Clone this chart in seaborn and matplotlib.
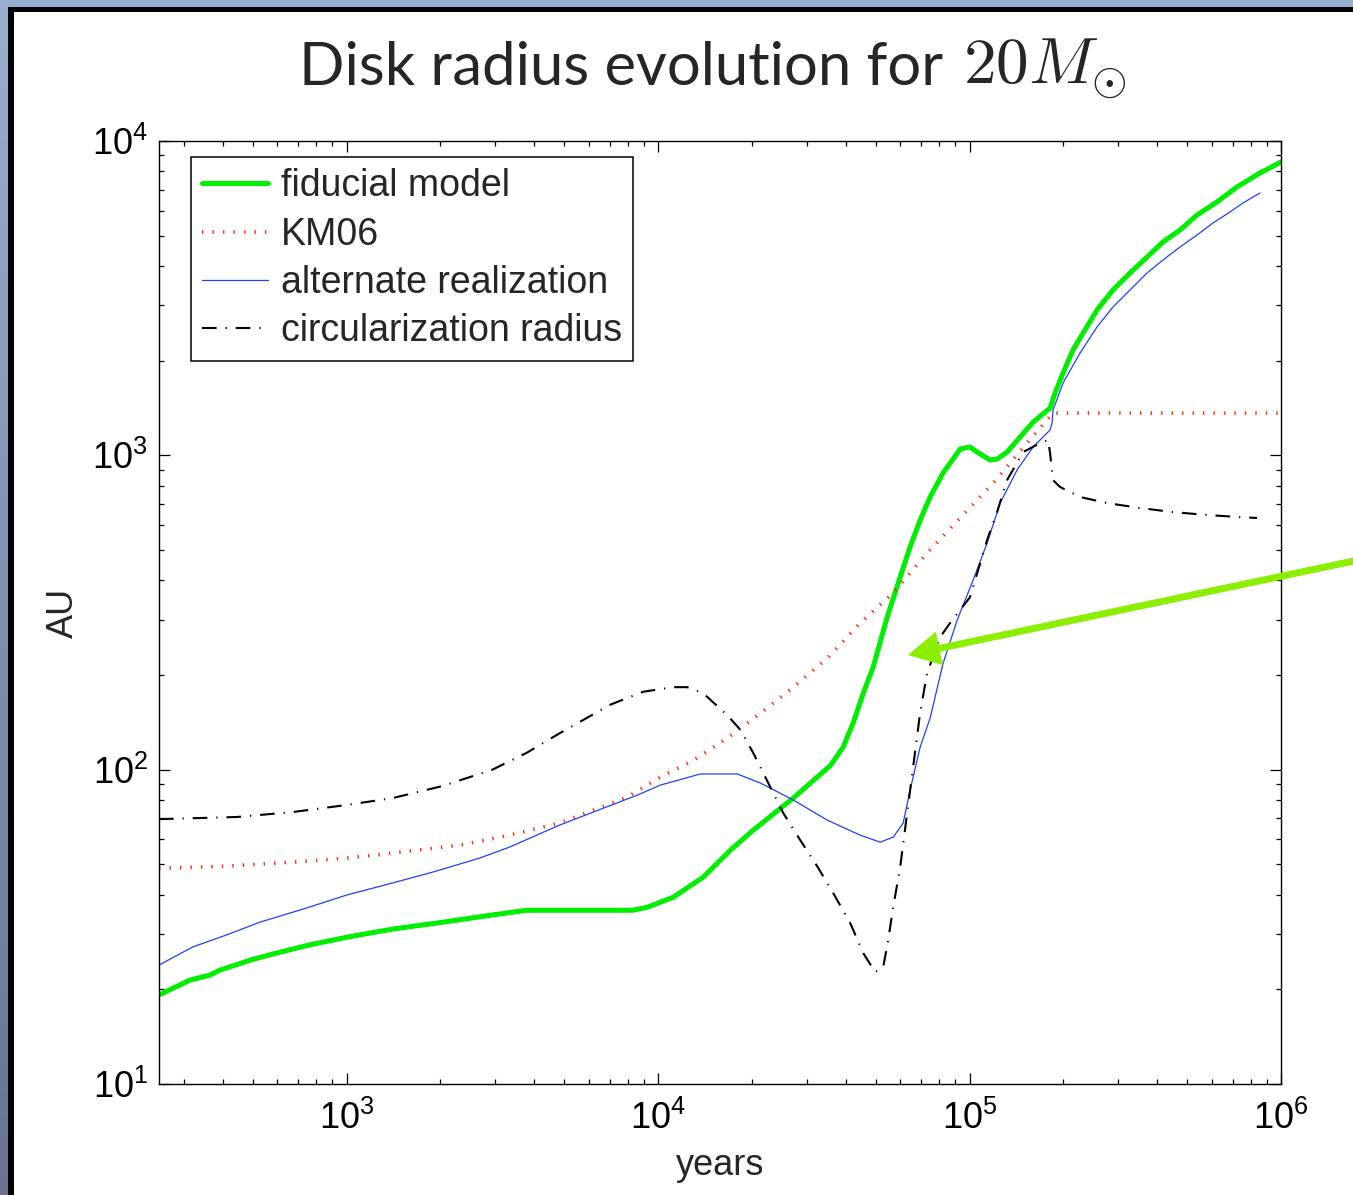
import numpy as np
import matplotlib
matplotlib.use("Agg")
import matplotlib.pyplot as plt
import seaborn as sns
from matplotlib.patches import Rectangle, FancyArrowPatch, ArrowStyle
from matplotlib.colors import LinearSegmentedColormap
from matplotlib.ticker import LogLocator, NullFormatter

# ---- data: disk radius (AU) versus time (years) ----
fid_years = [250, 314, 364, 391, 492, 596, 761, 1000, 1405, 2032, 2940, 3780, 4860,
             8270, 9240, 11200, 13970, 17060, 20220, 27170, 35710, 39310, 42330,
             45580, 49060, 54420, 59900, 64450, 69430, 74740, 82280, 93290, 100400,
             105800, 116400, 122600, 132000, 145300, 160000, 181400, 188200, 199700,
             214900, 231400, 256600, 288800, 327500, 371400, 417800, 474000, 537400,
             622900, 722100, 855800, 1000000]
fid_au = [19.2, 21.4, 22.2, 23.0, 24.8, 26.1, 27.7, 29.3, 31.1, 32.7, 34.5, 35.7, 35.7,
          35.7, 36.5, 39.3, 45.5, 55.4, 64.2, 81.2, 103, 118, 141,
          175, 212, 306, 410, 511, 622, 737, 879, 1047, 1063,
          1024, 966, 973, 1024, 1143, 1276, 1414, 1579, 1828,
          2163, 2449, 2900, 3357, 3802, 4274, 4771, 5211, 5815,
          6396, 7139, 7911, 8574]

km06_years = [250, 412, 671, 1000, 1405, 2305, 3334, 4824, 7970, 10170, 12980, 16690,
              21300, 27170, 34930, 44570, 56880, 73110, 93290, 119100, 153000, 185400,
              1000000]
km06_au = [48.6, 49.3, 50.8, 52.3, 54.3, 57.5, 61.9, 67.6, 81.8, 94.7, 107, 126,
           151, 183, 226, 293, 365, 489, 632, 816, 1094, 1363,
           1363]

alt_years = [250, 321, 412, 526, 744, 1000, 1405, 1888, 2671, 3334, 4824, 8580, 10170,
             13670, 17960, 21300, 27170, 34930, 44570, 51670, 56880, 61230, 64450,
             69430, 74740, 82280, 91260, 102700, 113900, 125400, 142100, 160000,
             181400, 184100, 185400, 199700, 226400, 256600, 288800, 327500, 371400,
             417800, 474000, 537400, 604700, 685600, 754800, 855800]
alt_au = [23.9, 27.3, 29.8, 32.7, 36.3, 39.9, 43.6, 47.2, 52.3, 56.7, 66.6, 83.0, 89.3,
          96.9, 96.9, 90.7, 80.1, 69.1, 61.9, 58.8, 61.0, 67.6, 86.1,
          118, 146, 218, 299, 401, 526, 705, 898, 1063,
          1204, 1267, 1394, 1699, 2116, 2560, 2964, 3357, 3802,
          4182, 4599, 5022, 5484, 5944, 6349, 6832]

circ_years = [250, 444, 671, 1000, 1405, 2032, 2940, 3780, 4860, 7030, 8970, 11200,
              12410, 13970, 16690, 18370, 20220, 22930, 25230, 28610, 32550, 36510,
              41400, 45580, 49790, 52820, 54820, 56880, 59900, 63070, 65920, 69430,
              73110, 80480, 86660, 100400, 113900, 122600, 132000, 148600, 168500,
              178700, 181400, 185400, 195300, 226400, 276300, 352600, 450000, 578500,
              738300, 837100]
circ_au = [69.6, 70.7, 73.3, 77.2, 81.2, 88.7, 100, 113, 131, 161, 177, 183,
           183, 175, 149, 134, 113, 88.0, 72.8, 59.7, 49.0, 40.5,
           32.5, 26.1, 22.7, 23.5, 28.7, 36.5, 49.0, 72.8, 102, 152,
           203, 264, 293, 354, 538, 660, 834, 1024, 1094,
           1119, 1017, 834, 793, 737, 705, 680, 660, 646,
           636, 632]

series_labels = ["fiducial model", "KM06", "alternate realization",
                 "circularization radius"]

# ---- style ----
sns.set_style("ticks")
plt.rcParams.update({
    "font.family": ["Liberation Sans", "DejaVu Sans"],
    "mathtext.fontset": "custom",
    "mathtext.rm": "Liberation Sans",
    "mathtext.it": "Liberation Sans:italic",
    "mathtext.bf": "Liberation Sans:bold",
    "axes.edgecolor": "black",
    "xtick.color": "black",
    "ytick.color": "black",
})

W, H = 1353, 1195
fig = plt.figure(figsize=(W / 100, H / 100), dpi=100)

# slide backdrop: bluish gradient, black frame, white panel
bg = fig.add_axes([0, 0, 1, 1], zorder=-10)
grad = np.linspace(0, 1, 256).reshape(-1, 1)
cmap = LinearSegmentedColormap.from_list("slide", ["#9aaed0", "#6a7290"])
bg.imshow(grad, aspect="auto", cmap=cmap, extent=[0, 1, 0, 1], origin="upper")
bg.add_patch(Rectangle((8 / W, 0), 1, (H - 7) / H, color="black", lw=0))
bg.add_patch(Rectangle((14 / W, 0), 1, (H - 12) / H, color="white", lw=0))
bg.set_xlim(0, 1)
bg.set_ylim(0, 1)
bg.set_axis_off()

ax = fig.add_axes([159 / W, 1 - 1084 / H, 1122 / W, 943 / H])
ax.set_facecolor("white")

sns.lineplot(x=fid_years, y=fid_au, ax=ax, color="#00ee00", linewidth=3.6,
             label=series_labels[0], estimator=None, sort=False)
sns.lineplot(x=km06_years, y=km06_au, ax=ax, color="#ff3010", linewidth=2.6,
             linestyle=(0, (0.4, 2.5)), label=series_labels[1],
             estimator=None, sort=False)
sns.lineplot(x=alt_years, y=alt_au, ax=ax, color="#2040ff", linewidth=0.9,
             label=series_labels[2], estimator=None, sort=False)
sns.lineplot(x=circ_years, y=circ_au, ax=ax, color="black", linewidth=1.5,
             linestyle=(0, (7, 4.3, 0.6, 4.3)), label=series_labels[3],
             estimator=None, sort=False)

ax.set_xscale("log")
ax.set_yscale("log")
ax.set_xlim(250, 1e6)
ax.set_ylim(10, 1e4)

for axis in (ax.xaxis, ax.yaxis):
    axis.set_major_locator(LogLocator(base=10, numticks=12))
    axis.set_minor_locator(LogLocator(base=10, subs=np.arange(2, 10), numticks=12))
    axis.set_minor_formatter(NullFormatter())

ax.tick_params(which="both", direction="in", top=True, right=True, width=0.9)
ax.tick_params(which="major", length=8, labelsize=26)
ax.tick_params(axis="x", which="major", pad=12)
ax.tick_params(axis="y", which="major", pad=8)
ax.tick_params(which="minor", length=3.8)
for sp in ax.spines.values():
    sp.set_linewidth(1.0)
    sp.set_color("black")

ax.set_xlabel("years", fontsize=26, labelpad=8)
ax.set_ylabel("AU", fontsize=26, labelpad=8)

leg = ax.legend(loc="upper left", bbox_to_anchor=(0.0285, 0.983), borderaxespad=0,
                fontsize=27, frameon=True, fancybox=False, edgecolor="black",
                framealpha=1, handlelength=1.75, handletextpad=0.35,
                labelspacing=0.33, borderpad=0.3)
leg.get_frame().set_linewidth(1.1)

# title: plain text followed by the solar-mass symbol in Computer Modern
fig.text(943 / W, 1 - 85 / H, "Disk radius evolution for", ha="right",
         va="baseline", fontsize=43, family=["Lato", "DejaVu Sans"])
fig.text(963 / W, 1 - 85 / H, r"$20M_{\odot}$", ha="left", va="baseline",
         fontsize=47, math_fontfamily="cm")

# pointer arrow entering from the right edge
arrow = FancyArrowPatch(
    posA=(1420 / W, 1 - 547 / H), posB=(908 / W, 1 - 655 / H),
    transform=fig.transFigure,
    arrowstyle=ArrowStyle.Simple(head_length=2.3, head_width=2.45, tail_width=0.5),
    mutation_scale=10, color="#8cee00", lw=0, shrinkA=0, shrinkB=0, zorder=20)
fig.add_artist(arrow)

fig.savefig("out.png", dpi=100)
